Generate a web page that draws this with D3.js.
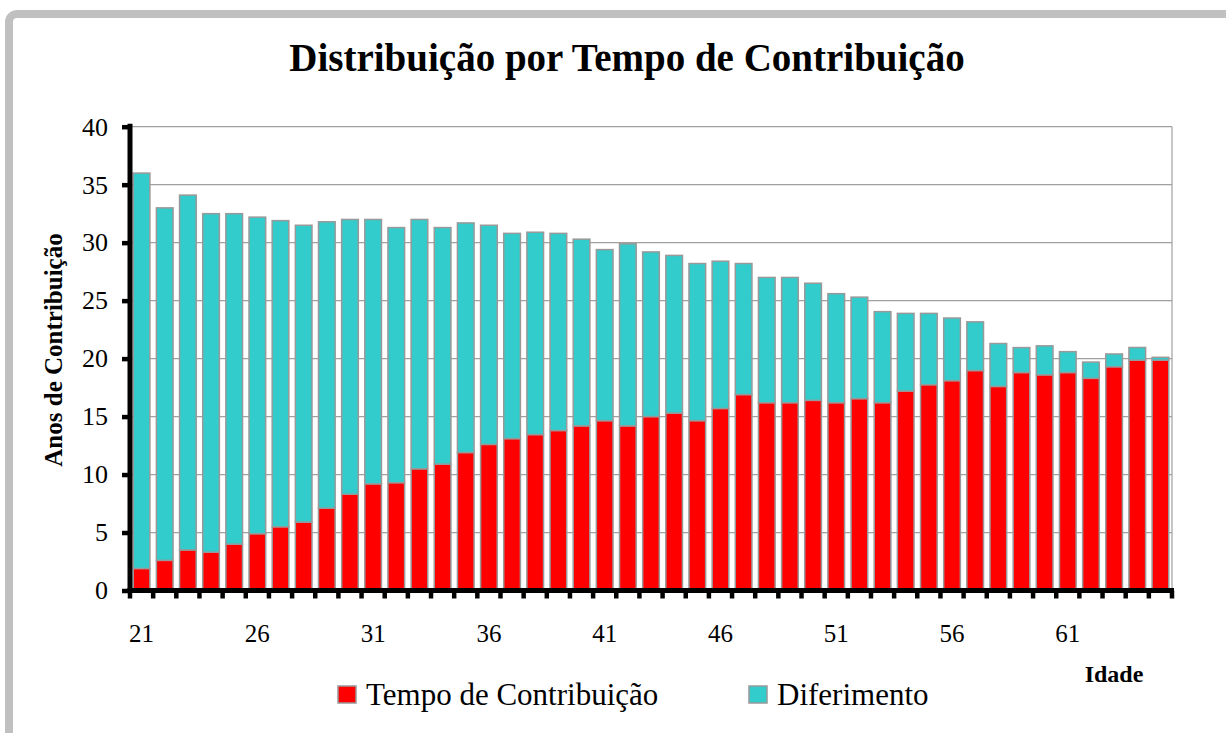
<!DOCTYPE html>
<html><head><meta charset="utf-8">
<script src="https://cdn.jsdelivr.net/npm/d3@7"></script>
<style>
body{margin:0;background:#fff} svg{display:block}
text{font-family:'Liberation Serif','Times New Roman','DejaVu Serif',serif;fill:#000}
</style>
</head><body><svg id="c" width="1226" height="733"></svg>
<script>
const ages = [21,22,23,24,25,26,27,28,29,30,31,32,33,34,35,36,37,38,39,40,41,42,43,44,45,46,47,48,49,50,51,52,53,54,55,56,57,58,59,60,61,62,63,64,65];
const tempo = [1.9,2.6,3.5,3.3,4.0,4.9,5.5,5.9,7.1,8.3,9.2,9.3,10.5,10.9,11.9,
  12.6,13.1,13.45,13.8,14.2,14.65,14.2,15.0,15.3,14.65,15.7,16.9,16.2,16.2,16.4,
  16.2,16.55,16.2,17.2,17.75,18.1,18.97,17.6,18.8,18.6,18.8,18.3,19.3,19.86,19.86];
const diferimento = [34.1,30.4,30.6,29.2,28.5,27.3,26.4,25.6,24.7,23.7,22.8,22.0,21.5,20.4,19.8,
  18.9,17.7,17.45,17.0,16.1,14.75,15.7,14.2,13.6,13.55,12.7,11.3,10.8,10.8,10.1,
  9.4,8.75,7.85,6.7,6.15,5.4,4.2,3.7,2.15,2.5,1.8,1.4,1.1,1.1,0.25];
const xTickLabels = [21,26,31,36,41,46,51,56,61];
const yTicks = [0,5,10,15,20,25,30,35,40];
const seriesNames = ["Tempo de Contribuição","Diferimento"];
const colors = ["#ff0000","#33cccc"];

const svg = d3.select("#c");
const L = 130, R = 1172, T = 126.7, B = 590.5;
const pin = 0.28;
const x = d3.scaleBand().domain(ages).range([L, R]).paddingInner(pin).paddingOuter(pin/2);
const y = d3.scaleLinear().domain([0, 40]).range([B, T]);

// frame
svg.append("rect").attr("x", 9).attr("y", 14).attr("width", 1400).attr("height", 900)
  .attr("rx", 8).attr("fill", "none").attr("stroke", "#c0c0c0").attr("stroke-width", 8);

// gridlines
svg.append("g").selectAll("line").data(yTicks.filter(d => d > 0)).join("line")
  .attr("x1", L).attr("x2", R).attr("y1", d => y(d)).attr("y2", d => y(d))
  .attr("stroke", "#a0a0a0").attr("stroke-width", 1.2);
svg.append("line").attr("x1", R).attr("x2", R).attr("y1", T).attr("y2", B)
  .attr("stroke", "#a0a0a0").attr("stroke-width", 1.2);

// stacked data
const rows = ages.map((a, i) => ({age: a, t: tempo[i], d: diferimento[i]}));
const stack = d3.stack().keys(["t", "d"])(rows);
svg.append("g").selectAll("g").data(stack).join("g")
  .attr("fill", (s, i) => colors[i])
  .selectAll("rect").data(s => s).join("rect")
  .attr("x", d => x(d.data.age)).attr("width", x.bandwidth())
  .attr("y", d => y(d[1])).attr("height", d => y(d[0]) - y(d[1]))
  .attr("stroke", "#999").attr("stroke-width", 1.5);

// y axis
const yAxis = d3.axisLeft(y).tickValues(yTicks).tickSize(8).tickPadding(14);
const gy = svg.append("g").attr("transform", `translate(${L},0)`).call(yAxis);
gy.select(".domain").remove();
gy.selectAll(".tick line").attr("stroke", "#000").attr("stroke-width", 4.5);
gy.selectAll(".tick text").attr("font-family", null).attr("font-size", 26).attr("fill", "#000");
svg.append("line").attr("x1", L).attr("x2", L).attr("y1", T - 3).attr("y2", B + 2.5)
  .attr("stroke", "#000").attr("stroke-width", 5);

// x axis
svg.append("line").attr("x1", L - 2.5).attr("x2", R + 2).attr("y1", B).attr("y2", B)
  .attr("stroke", "#000").attr("stroke-width", 5);
const bounds = ages.map(a => x(a) - x.step() * pin / 2).concat([R]);
svg.append("g").selectAll("line").data(bounds).join("line")
  .attr("x1", d => d).attr("x2", d => d).attr("y1", B).attr("y2", B + 8)
  .attr("stroke", "#000").attr("stroke-width", 4.5);
svg.append("g").selectAll("text").data(xTickLabels).join("text")
  .attr("x", d => x(d) + x.bandwidth() / 2).attr("y", 642)
  .attr("text-anchor", "middle").attr("font-size", 25).text(d => d);

// titles
svg.append("text").attr("x", 627).attr("y", 71).attr("text-anchor", "middle")
  .attr("font-weight", "bold").attr("font-size", 39).text("Distribuição por Tempo de Contribuição");
svg.append("text").attr("transform", "translate(62,350) rotate(-90)").attr("text-anchor", "middle")
  .attr("font-weight", "bold").attr("font-size", 25).text("Anos de Contribuição");
svg.append("text").attr("x", 1114).attr("y", 682).attr("text-anchor", "middle")
  .attr("font-weight", "bold").attr("font-size", 24).text("Idade");

// legend
const legX = [338, 749];
const lg = svg.append("g").selectAll("g").data(seriesNames).join("g")
  .attr("transform", (d, i) => `translate(${legX[i]},0)`);
lg.append("rect").attr("x", 0).attr("y", 686).attr("width", 18).attr("height", 17)
  .attr("fill", (d, i) => colors[i]).attr("stroke", "#999").attr("stroke-width", 1.5);
lg.append("text").attr("x", 28).attr("y", 705).attr("font-size", 31).text(d => d);
</script></body></html>
